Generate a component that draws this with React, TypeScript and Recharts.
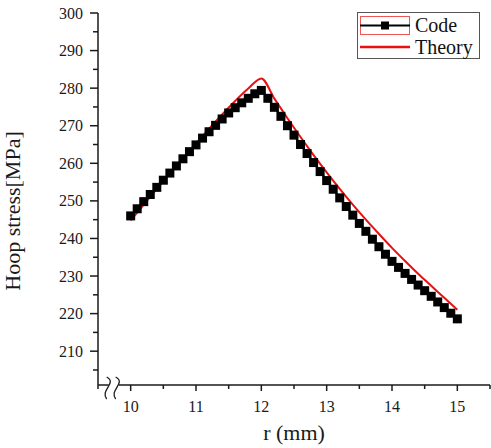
import { LineChart, Line, XAxis, YAxis, ReferenceDot } from "recharts";

// radius (mm) for the Code series, 0.1 mm step
const codeR = [
  10.0, 10.1, 10.2, 10.3, 10.4, 10.5, 10.6, 10.7, 10.8, 10.9,
  11.0, 11.1, 11.2, 11.3, 11.4, 11.5, 11.6, 11.7, 11.8, 11.9,
  12.0, 12.1, 12.2, 12.3, 12.4, 12.5, 12.6, 12.7, 12.8, 12.9,
  13.0, 13.1, 13.2, 13.3, 13.4, 13.5, 13.6, 13.7, 13.8, 13.9,
  14.0, 14.1, 14.2, 14.3, 14.4, 14.5, 14.6, 14.7, 14.8, 14.9,
  15.0,
];
const codeStress = [
  246.0, 247.9, 249.8, 251.7, 253.6, 255.5, 257.4, 259.3, 261.2, 263.1,
  264.9, 266.7, 268.4, 270.1, 271.8, 273.4, 274.8, 276.1, 277.3, 278.5,
  279.4, 277.3, 274.9, 272.5, 270.0, 267.5, 265.0, 262.6, 260.2, 257.8,
  255.4, 253.1, 250.8, 248.5, 246.2, 244.0, 241.9, 239.8, 237.8, 235.8,
  233.9, 232.3, 230.7, 229.1, 227.6, 226.1, 224.6, 223.1, 221.6, 220.1,
  218.6,
];

const theoryR = [
  10.0, 10.2, 10.4, 10.6, 10.8, 11.0, 11.2, 11.4, 11.6, 11.8, 12.0,
  12.2, 12.4, 12.6, 12.8, 13.0, 13.2, 13.4, 13.6, 13.8, 14.0,
  14.2, 14.4, 14.6, 14.8, 15.0,
];
const theoryStress = [
  244.8, 249.0, 253.2, 257.3, 261.3, 265.3, 269.2, 273.0, 276.6, 279.9, 282.6,
  277.2, 272.0, 267.0, 262.2, 257.6, 253.2, 249.0, 245.0, 241.2, 237.5,
  234.0, 230.6, 227.4, 224.2, 221.0,
];

const xTicks = [9.5, 10, 10.5, 11, 11.5, 12, 12.5, 13, 13.5, 14, 14.5, 15, 15.5];
const yTicks = [205, 210, 215, 220, 225, 230, 235, 240, 245, 250, 255, 260, 265, 270, 275, 280, 285, 290, 295, 300];

const codeData = codeR.map((r, i) => ({ r, stress: codeStress[i] }));
const theoryData = theoryR.map((r, i) => ({ r, stress: theoryStress[i] }));

const FONT = "'Liberation Serif', 'Times New Roman', serif";
const INK = "#1a1a1a";
const RED = "#e81010";

const isWhole = (v: any) => Math.abs(Number(v) - Math.round(Number(v))) < 1e-6;

const YTick = ({ x, y, payload }: any) => {
  const major = Math.round(Number(payload.value)) % 10 === 0;
  return (
    <g>
      <line x1={x} x2={x - (major ? 8 : 5)} y1={y} y2={y} stroke={INK} strokeWidth={1.5} />
      {major && (
        <text x={x - 15} y={y} dy="0.35em" textAnchor="end" fontFamily={FONT} fontSize={16} fill={INK}>
          {payload.value}
        </text>
      )}
    </g>
  );
};

const XTick = ({ x, y, payload }: any) => {
  const major = isWhole(payload.value);
  return (
    <g>
      <line x1={x} x2={x} y1={y} y2={y + (major ? 6 : 4)} stroke={INK} strokeWidth={1.5} />
      {major && (
        <text x={x} y={y + 21} dy="0.35em" textAnchor="middle" fontFamily={FONT} fontSize={16} fill={INK}>
          {Math.round(Number(payload.value))}
        </text>
      )}
    </g>
  );
};

const SquareDot = ({ cx, cy }: any) => (
  <rect x={cx - 4.5} y={cy - 4.5} width={9} height={9} fill="#000" />
);

// axis break mark drawn at a data position on the x axis
const BreakMark = ({ cx, cy }: any) => (
  <g>
    <rect x={cx - 5} y={cy - 2} width={10} height={4} fill="#fff" />
    {[-5, 4].map((d) => (
      <path
        key={d}
        d={`M ${cx + d - 2} ${cy - 8} C ${cx + d + 9} ${cy - 2}, ${cx + d - 9} ${cy + 5}, ${cx + d - 2} ${cy + 14}`}
        fill="none"
        stroke={INK}
        strokeWidth={1.3}
      />
    ))}
  </g>
);

const LegendBox = () => (
  <div
    style={{
      position: "absolute",
      left: 357,
      top: 12,
      width: 121,
      height: 45,
      border: "1px solid #555",
      background: "#fff",
      fontFamily: FONT,
      fontSize: 20,
      color: "#111",
      lineHeight: "22px",
    }}
  >
    <div style={{ display: "flex", alignItems: "center", height: 23 }}>
      <svg width={54} height={22} style={{ flex: "none" }}>
        <rect x={2.5} y={2.5} width={49} height={18} fill="none" stroke="#e55" strokeWidth={1} />
        <line x1={2} x2={52} y1={11.5} y2={11.5} stroke="#000" strokeWidth={2} />
        <rect x={23} y={7.5} width={8} height={8} fill="#000" />
      </svg>
      <span style={{ marginLeft: 3 }}>Code</span>
    </div>
    <div style={{ display: "flex", alignItems: "center", height: 22 }}>
      <svg width={54} height={22} style={{ flex: "none" }}>
        <line x1={2} x2={52} y1={11} y2={11} stroke={RED} strokeWidth={2.5} />
      </svg>
      <span style={{ marginLeft: 3 }}>Theory</span>
    </div>
  </div>
);

export default function App() {
  return (
    <div style={{ position: "absolute", left: 0, top: 0, width: 491, height: 448, background: "#fff" }}>
      <LineChart width={491} height={448} margin={{ top: 13, right: 1, bottom: 0, left: 0 }}>
        <XAxis
          type="number"
          dataKey="r"
          domain={[9.5, 15.5]}
          ticks={xTicks}
          interval={0}
          tick={<XTick />}
          tickLine={false}
          tickSize={0}
          tickMargin={0}
          height={63}
          axisLine={{ stroke: INK, strokeWidth: 1.5 }}
          label={{ value: "r (mm)", position: "insideBottom", offset: 8, fontFamily: FONT, fontSize: 22, fill: INK }}
        />
        <YAxis
          type="number"
          domain={[201, 300]}
          ticks={yTicks}
          interval={0}
          allowDataOverflow
          tick={<YTick />}
          tickLine={false}
          tickSize={0}
          tickMargin={0}
          width={98}
          axisLine={{ stroke: INK, strokeWidth: 1.5 }}
          label={{
            value: "Hoop stress[MPa]",
            angle: -90,
            position: "insideLeft",
            offset: 12,
            dy: 12,
            style: { textAnchor: "middle", fontFamily: FONT, fontSize: 22, fill: INK },
          }}
        />
        <Line
          data={codeData}
          dataKey="stress"
          name="Code"
          type="linear"
          stroke="#000"
          strokeWidth={2}
          dot={<SquareDot />}
          isAnimationActive={false}
        />
        <Line
          data={theoryData}
          dataKey="stress"
          name="Theory"
          type="monotone"
          stroke={RED}
          strokeWidth={2}
          dot={false}
          isAnimationActive={false}
        />
        <ReferenceDot x={9.74} y={201} ifOverflow="visible" shape={<BreakMark />} />
      </LineChart>
      <LegendBox />
    </div>
  );
}
